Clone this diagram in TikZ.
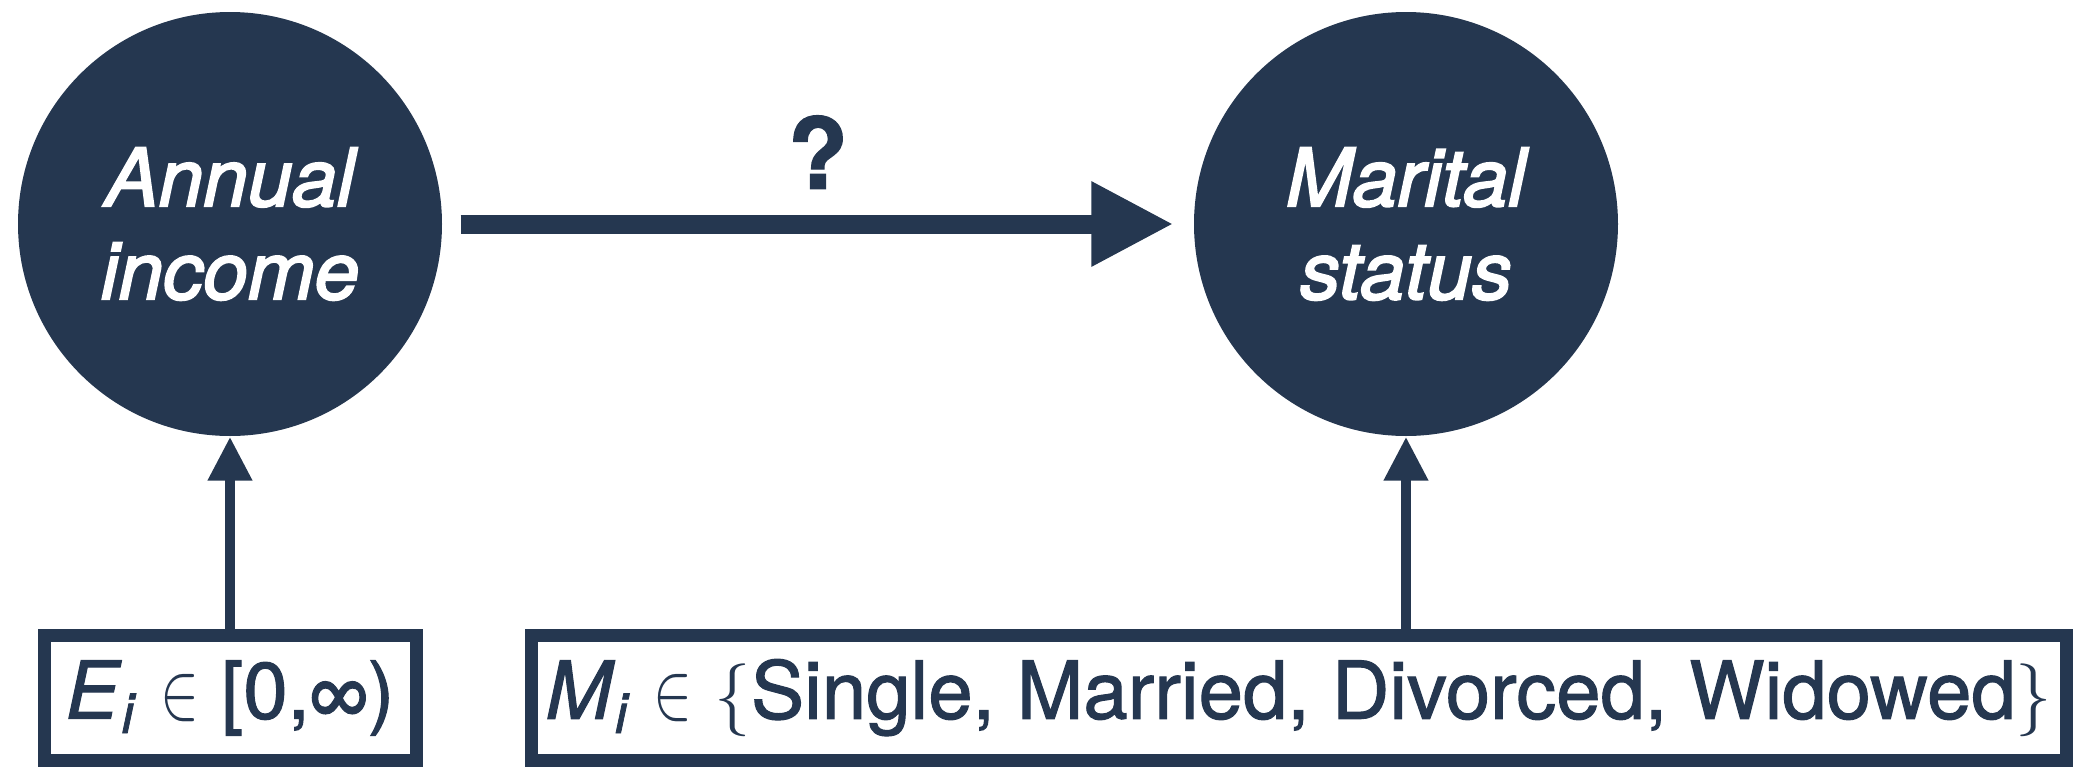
\documentclass[tikz,border=0pt]{standalone}
\usepackage{fontspec}
\setmainfont{TeX Gyre Heros}[FakeBold=1.4]
\newfontfamily\circlefont{TeX Gyre Heros}[FakeBold=2.4]
\usepackage{tikz}
\usetikzlibrary{arrows.meta}
\definecolor{nodeblue}{RGB}{37,55,80}
\tikzset{
	varnode/.style={circle, fill=nodeblue, inner sep=0pt, minimum size=4.24cm, text=white, align=center, font=\circlefont\fontsize{22.8}{26.5}\selectfont\itshape\color{white}},
	valbox/.style={draw=nodeblue, line width=0.13cm, inner sep=0pt, minimum height=1.25cm, text=nodeblue, font=\fontsize{22.7}{27}\selectfont\color{nodeblue}},
	bigarrow/.style={draw=nodeblue, line width=0.19cm, -{Triangle[length=0.82cm, width=0.80cm]}},
	smallarrow/.style={draw=nodeblue, line width=0.105cm, -{Triangle[length=0.44cm, width=0.42cm]}}
}
\newcommand{\isin}{\scalebox{0.8}[1.12]{$\in$}}

\begin{document}
\begin{tikzpicture}
			%%%%% START %%%%%
			\useasboundingbox (0, 0) rectangle (20.8, 7.67);
			
			\node[varnode] (income) at (2.30, 5.43) {Annual\\income};
			\node[varnode] (marital) at (14.06, 5.43) {Marital\\status};
			
			\node[valbox, minimum width=3.72cm] (incbox) at (2.30, 0.69) {\textit{E}\textsubscript{\textit{i}} \isin{} [0,∞)};
			\node[valbox, minimum width=15.35cm] (marbox) at (12.99, 0.69) {\textit{M}\textsubscript{\textit{i}} \isin{} $\{$Single, Married, Divorced, Widowed$\}$};
			
			\draw[bigarrow, shorten <=0.18cm, shorten >=0.2cm] (income) -- (marital) node[pos=0.5, above=0.14cm, text=nodeblue, font=\fontsize{28}{30}\selectfont\bfseries] (question) {?};
			
			\draw[smallarrow] (income.south |- incbox.north) -- (income.south);
			\draw[smallarrow] (marital.south |- marbox.north) -- (marital.south);
			
			%%%%% END %%%%%
		\end{tikzpicture}
\end{document}
